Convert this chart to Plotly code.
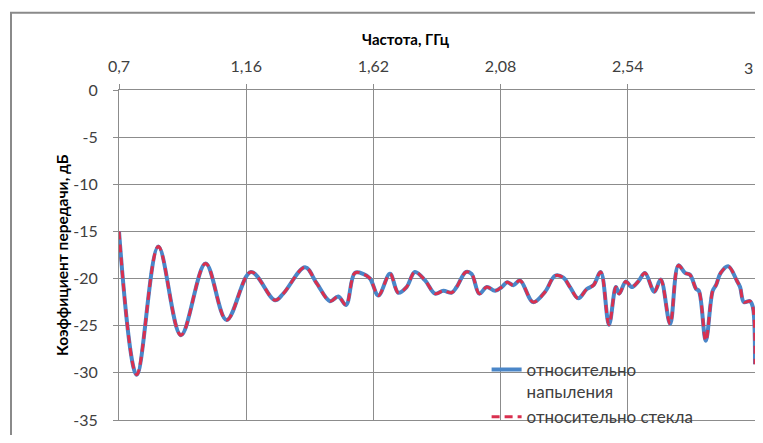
import plotly.graph_objects as go

# Frequency, GHz
freq = [0.700, 0.764, 0.842, 0.924, 1.013, 1.089, 1.177, 1.264, 1.294, 1.373,
        1.415, 1.463, 1.493, 1.521, 1.553, 1.583, 1.608, 1.638, 1.680, 1.710,
        1.740, 1.770, 1.807, 1.843, 1.873, 1.903, 1.921, 1.955, 1.975, 2.003,
        2.030, 2.060, 2.084, 2.104, 2.126, 2.150, 2.198, 2.241, 2.277, 2.307,
        2.331, 2.361, 2.392, 2.416, 2.442, 2.472, 2.497, 2.509, 2.533, 2.554,
        2.578, 2.602, 2.636, 2.659, 2.693, 2.723, 2.747, 2.765, 2.787, 2.797,
        2.822, 2.847, 2.859, 2.876, 2.903, 2.934, 2.946, 2.960, 2.982, 2.992,
        3.000]

# Transmission coefficient relative to the coating, dB
rel_coating = [-15.0, -30.2, -16.6, -26.0, -18.4, -24.4, -19.3, -22.3, -21.6, -18.8,
               -20.5, -22.4, -21.9, -22.8, -19.4, -19.5, -20.0, -21.8, -19.5, -21.5,
               -20.9, -19.3, -20.2, -21.6, -21.3, -21.5, -20.9, -19.3, -19.5, -21.6,
               -20.9, -21.3, -20.9, -20.4, -20.7, -20.2, -22.5, -21.4, -19.7, -19.9,
               -20.9, -22.1, -21.1, -20.7, -19.3, -24.9, -20.9, -21.6, -20.3, -20.9,
               -20.3, -19.4, -21.4, -20.1, -24.8, -18.6, -19.4, -19.6, -21.1, -21.3,
               -26.6, -21.3, -20.7, -19.4, -18.7, -20.2, -20.9, -22.5, -22.4, -23.0,
               -29.1]

# Transmission coefficient relative to the glass, dB
rel_glass = [-15.0, -30.2, -16.6, -26.0, -18.4, -24.4, -19.3, -22.3, -21.6, -18.8,
             -20.5, -22.4, -21.9, -22.8, -19.4, -19.5, -20.0, -21.8, -19.5, -21.5,
             -20.9, -19.3, -20.2, -21.6, -21.3, -21.5, -20.9, -19.3, -19.5, -21.6,
             -20.9, -21.3, -20.9, -20.4, -20.7, -20.2, -22.5, -21.4, -19.7, -19.9,
             -20.9, -22.1, -21.1, -20.7, -19.3, -24.9, -20.9, -21.6, -20.3, -20.9,
             -20.3, -19.4, -21.4, -20.1, -24.8, -18.6, -19.4, -19.6, -21.1, -21.3,
             -26.6, -21.3, -20.7, -19.4, -18.7, -20.2, -20.9, -22.5, -22.4, -23.0,
             -29.1]

x_tickvals = [0.7, 1.16, 1.62, 2.08, 2.54, 3.0]
x_ticktext = ["0,7", "1,16", "1,62", "2,08", "2,54", ""]
x_last_label = "3"  # drawn right-aligned at the plot edge so it stays inside the page
y_tickvals = [0, -5, -10, -15, -20, -25, -30, -35]
y_ticktext = ["0", "-5", "-10", "-15", "-20", "-25", "-30", "-35"]

series_names = ["относительно<br>напыления", "относительно стекла"]
x_title = "Частота, ГГц"
y_title = "Коэффициент передачи, дБ"

FONT = "Lato, 'Open Sans', sans-serif"
GRID = "#8c8c8c"

fig = go.Figure()
fig.add_trace(go.Scatter(
    x=freq, y=rel_coating, mode="lines", name=series_names[0],
    line=dict(color="#4a86c8", width=4, shape="spline", smoothing=1.0),
))
fig.add_trace(go.Scatter(
    x=freq, y=rel_glass, mode="lines", name=series_names[1],
    line=dict(color="#d9304f", width=3, dash="8px,5px", shape="spline", smoothing=1.0),
))

# page body adds an 8px margin; the figure is sized so the page fits the window
fig.update_layout(
    width=747, height=427,
    margin=dict(l=111, r=0, t=82, b=8),
    paper_bgcolor="white", plot_bgcolor="white",
    font=dict(family=FONT, size=16, color="#404040"),
    showlegend=True,
    legend=dict(
        x=0.578, y=0.205, xanchor="left", yanchor="top",
        bgcolor="rgba(0,0,0,0)", borderwidth=0,
        font=dict(family=FONT, size=17, color="#404040"),
        valign="top", tracegroupgap=0,
    ),
    xaxis=dict(
        side="top", range=[0.7, 3.0], tickvals=x_tickvals, ticktext=x_ticktext,
        showgrid=True, gridcolor=GRID, gridwidth=1,
        showline=True, linecolor=GRID, linewidth=1, mirror=True,
        ticks="outside", ticklen=5, tickcolor=GRID,
        zeroline=False, ticklabelstandoff=6, automargin=False,
    ),
    yaxis=dict(
        range=[-35, 0], tickvals=y_tickvals, ticktext=y_ticktext,
        showgrid=True, gridcolor=GRID, gridwidth=1,
        showline=True, linecolor=GRID, linewidth=1, mirror=True,
        ticks="outside", ticklen=5, tickcolor=GRID,
        zeroline=False, ticklabelstandoff=12, automargin=False,
    ),
    annotations=[
        dict(text="<b>" + x_title + "</b>", xref="paper", yref="paper",
             x=0.4505, y=1.155, xanchor="center", yanchor="middle", showarrow=False,
             font=dict(family=FONT, size=15, color="#000000")),
        dict(text="<b>" + y_title + "</b>", xref="paper", yref="paper",
             x=-0.0896, y=0.5, xanchor="center", yanchor="middle", showarrow=False,
             textangle=-90, font=dict(family=FONT, size=15.5, color="#000000")),
        dict(text=x_last_label, xref="paper", yref="paper",
             x=1.0, y=1.068, xanchor="right", yanchor="middle", showarrow=False,
             font=dict(family=FONT, size=16, color="#404040")),
    ],
    shapes=[
        dict(type="rect", xref="paper", yref="paper",
             x0=-0.1698, y0=-0.08, x1=1.03, y1=1.234,
             line=dict(color="#8a8a8a", width=2), fillcolor="rgba(0,0,0,0)", layer="below"),
    ],
)

fig.write_html("out.html")
